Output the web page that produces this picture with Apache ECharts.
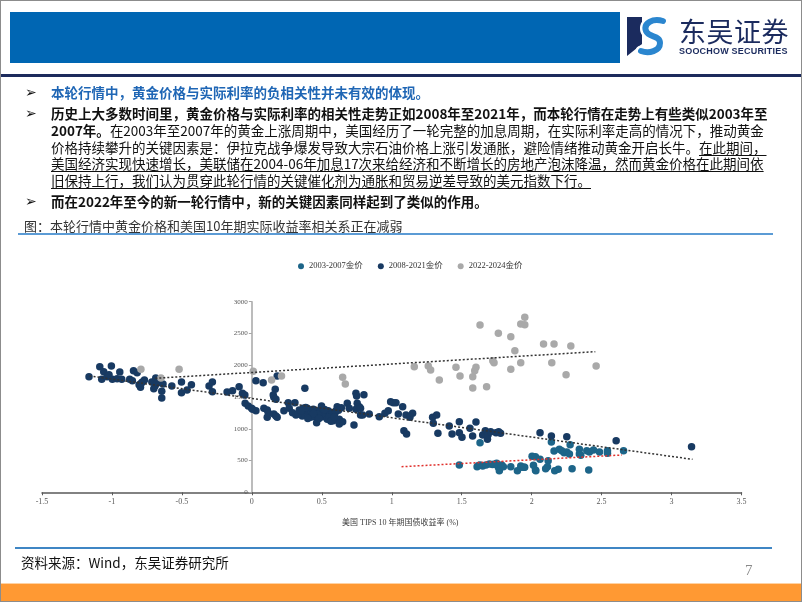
<!DOCTYPE html>
<html>
<head>
<meta charset="utf-8">
<script src="https://cdn.jsdelivr.net/npm/echarts@6/dist/echarts.min.js"></script>
<style>
html,body{margin:0;padding:0;background:#fff;}
#page{position:relative;width:802px;height:602px;overflow:hidden;background:#fff;font-family:"Noto Sans CJK SC","Noto Sans",sans-serif;}
#chart{position:absolute;left:0;top:0;width:802px;height:602px;z-index:1;}
.abs{position:absolute;white-space:nowrap;z-index:2;}
.txt{font-size:13.5px;line-height:16px;color:#111;}
.just{text-align:justify;text-align-last:justify;}
.b{font-weight:bold;}
.u{text-decoration:underline;text-underline-offset:2px;text-decoration-thickness:1px;}
.arrow{font-family:"DejaVu Sans",sans-serif;font-size:14px;font-weight:bold;line-height:16px;color:#111;left:25px;}
#frame{position:absolute;left:0;top:0;width:802px;height:602px;box-sizing:border-box;border:1px solid #8c8c8c;z-index:6;pointer-events:none;}
</style>
</head>
<body>
<div id="page">
  <div id="chart"></div>

  <!-- header -->
  <div class="abs" style="left:10px;top:12px;width:610px;height:51px;background:#0066b3;"></div>
  <svg class="abs" style="left:627px;top:17px;" width="46" height="40" viewBox="0 0 46 40">
    <polygon points="0,0 15,0 15,27 0,39" fill="#1b2b5e"/>
    <path d="M36,4 C26,1 16,6 19,14 C22,21 33,18 33,26 C33,34 22,37 14,34" fill="none" stroke="#ffffff" stroke-width="11" stroke-linecap="round"/>
    <path d="M36,4 C26,1 16,6 19,14 C22,21 33,18 33,26 C33,34 22,37 14,34" fill="none" stroke="#2b86cf" stroke-width="6" stroke-linecap="round"/>
  </svg>
  <div class="abs" style="left:679px;top:15px;font-size:27px;line-height:32px;color:#1b2b5e;letter-spacing:0.5px;">东吴证券</div>
  <div class="abs" style="left:679px;top:46px;font-family:'Liberation Sans Narrow','Liberation Sans',sans-serif;font-weight:bold;font-size:9px;line-height:10px;color:#1b2b5e;letter-spacing:0.2px;">SOOCHOW SECURITIES</div>
  <div class="abs" style="left:0;top:74px;width:802px;height:3px;background:#1c2a5c;"></div>

  <!-- bullets -->
  <div class="abs arrow" style="top:84px;">➢</div>
  <div class="abs txt b" style="left:51px;top:84px;color:#1f66b5;">本轮行情中，黄金价格与实际利率的负相关性并未有效的体现。</div>

  <div class="abs arrow" style="top:105px;">➢</div>
  <div class="abs txt b just" style="left:51px;top:105px;width:711px;">历史上大多数时间里，黄金价格与实际利率的相关性走势正如2008年至2021年，而本轮行情在走势上有些类似2003年至</div>
  <div class="abs txt just" style="left:51px;top:122px;width:707px;"><span class="b">2007年。</span>在2003年至2007年的黄金上涨周期中，美国经历了一轮完整的加息周期，在实际利率走高的情况下，推动黄金</div>
  <div class="abs txt just" style="left:51px;top:139px;width:705px;">价格持续攀升的关键因素是：伊拉克战争爆发导致大宗石油价格上涨引发通胀，避险情绪推动黄金开启长牛。<span class="u">在此期间，</span></div>
  <div class="abs txt just u" style="left:51px;top:155px;width:709px;">美国经济实现快速增长，美联储在2004-06年加息17次来给经济和不断增长的房地产泡沫降温，然而黄金价格在此期间依</div>
  <div class="abs txt u" style="left:51px;top:172px;">旧保持上行，我们认为贯穿此轮行情的关键催化剂为通胀和贸易逆差导致的美元指数下行。</div>

  <div class="abs arrow" style="top:193px;">➢</div>
  <div class="abs txt b" style="left:51px;top:193px;">而在2022年至今的新一轮行情中，新的关键因素同样起到了类似的作用。</div>

  <div class="abs" style="left:24px;top:218px;font-size:13px;line-height:16px;color:#333;">图：本轮行情中黄金价格和美国10年期实际收益率相关系正在减弱</div>
  <div class="abs" style="left:18px;top:233px;width:755px;height:2px;background:#5b9bd5;"></div>

  <!-- footer -->
  <div class="abs" style="left:15px;top:547px;width:757px;height:2px;background:#3f86c4;"></div>
  <div class="abs" style="left:21px;top:554px;font-size:13.5px;line-height:16px;color:#111;">资料来源：Wind，东吴证券研究所</div>
  <div class="abs" style="left:745px;top:562px;font-family:'Liberation Serif',serif;font-size:15px;line-height:16px;color:#8a8a8a;">7</div>
  <div class="abs" style="left:0;top:584px;width:802px;height:18px;background:#ff9933;"></div>
  <div class="abs" style="left:0;top:583px;width:802px;height:1px;background:#ffd2a3;"></div>

  <div id="frame"></div>
</div>

<script>
// ---------- data ----------
const seriesNames = ['2003-2007金价', '2008-2021金价', '2022-2024金价'];
const xAxisTitle = '美国 TIPS 10 年期国债收益率 (%)';
const xMin = -1.5, xMax = 3.5, xStep = 0.5;
const yMin = 0, yMax = 3000, yStep = 500;

const gold2003_2007 = [
  [1.631,781],[2.141,792],[2.275,749],[2.160,650],[2.198,677],[2.215,655],[2.232,624],[2.251,634],
  [2.270,603],[2.341,677],[2.341,603],[2.351,582],[2.394,655],[2.413,634],[2.442,666],[2.485,634],
  [2.542,655],[2.542,614],[2.657,655],[2.003,566],[2.027,561],[2.060,519],[2.118,498],[1.927,394],
  [1.950,394],[2.013,425],[2.027,351],[2.113,403],[2.100,372],[2.165,340],[2.190,361],[2.289,372],
  [2.408,351],[2.030,340],[1.483,430],[1.610,403],[1.631,430],[1.650,414],[1.674,430],[1.698,446],
  [1.750,456],[1.762,394],[1.769,340],[1.786,430],[1.798,403],[1.851,403],[1.898,340],[1.922,414],
  [1.946,394],[1.620,420],[1.720,436],[1.733,440]
];

const gold2008_2021 = [
  [-1.164,1820],[-1.087,1977],[-1.059,1898],[-1.073,1778],[-1.035,1820],[-1.021,1852],[-1.004,1988],
  [-0.997,1778],[-0.963,1789],[-0.944,1893],[-0.930,1778],[-0.873,1778],[-0.854,1757],[-0.846,1914],
  [-0.820,1883],[-0.806,1694],[-0.796,1652],[-0.782,1736],[-0.768,1767],[-0.790,1720],[-0.715,1736],
  [-0.701,1631],[-0.687,1799],[-0.692,1673],[-0.677,1715],[-0.644,1590],[-0.644,1484],[-0.635,1704],
  [-0.572,1673],[-0.503,1736],[-0.503,1568],[-0.463,1610],[-0.432,1694],[-0.306,1673],[-0.282,1736],
  [-0.282,1584],[-0.177,1579],[-0.138,1600],[-0.091,1662],[-0.067,1558],[-0.050,1532],[-0.048,1401],
  [-0.026,1358],[-0.002,1322],[0.029,1285],
  [0.029,1757],[0.081,1725],[0.181,1831],[0.167,1621],[0.153,1532],[0.157,1495],[0.172,1464],
  [0.005,1306],[0.086,1322],[0.110,1296],[0.117,1253],[0.110,1180],[0.157,1233],[0.172,1201],
  [0.181,1180],[0.229,1285],[0.260,1411],[0.267,1322],[0.308,1411],[0.291,1253],[0.315,1217],
  [0.339,1296],[0.355,1253],[0.367,1322],[0.379,1285],[0.396,1322],[0.403,1243],[0.410,1296],
  [0.427,1269],[0.439,1306],[0.451,1190],[0.463,1096],[0.475,1243],[0.487,1296],[0.498,1359],
  [0.505,1190],[0.515,1253],[0.529,1217],[0.539,1149],[0.546,1285],[0.558,1243],[0.570,1201],
  [0.577,1253],[0.582,1127],[0.594,1243],[0.601,1285],[0.610,1348],[0.625,1149],[0.625,1075],
  [0.649,1112],[0.379,1637],[0.682,1401],[0.696,1322],[0.730,1059],[0.744,1558],[0.749,1516],
  [0.753,1401],[0.768,1348],[0.744,1306],[0.777,1322],[0.777,1217],[0.792,1217],[0.801,1537],
  [0.839,1233],[0.911,1190],[0.951,1243],[0.975,1285],[0.992,1427],[1.011,1411],[1.030,1411],
  [1.047,1233],[1.078,1348],[1.102,1217],[1.087,970],[1.106,918],
  [0.360,1200],[0.420,1180],[0.470,1225],[0.520,1305],[0.550,1180],[0.440,1240],[0.385,1335],
  [0.330,1232],[0.565,1120],[0.620,1292],[0.640,1330],[0.590,1185],[0.400,1160],[0.480,1160],[0.350,1280],
  [1.130,1180],[1.149,1243],[1.292,1180],[1.321,1217],[1.297,1086],[1.330,929],[1.411,1044],
  [1.431,918],[1.483,1112],[1.483,938],[1.502,866],[1.559,1007],[1.578,887],[1.602,1107],
  [1.650,902],[1.669,970],[1.684,834],[1.688,902],[1.707,954],[1.745,938],[1.764,954],
  [1.778,929],[2.060,938],[2.141,887],[2.251,875],[2.604,812],[3.143,718]
];

const gold2022_2024 = [
  [-0.793,1936],[-0.650,1800],[-0.520,1936],[0.010,1905],[0.141,1768],[0.212,1831],[0.649,1810],[0.668,1705],
  [1.161,1977],[1.261,1988],[1.278,1925],[1.340,1768],[1.459,1967],[1.488,1831],[1.579,1820],[1.579,1642],
  [1.593,1915],[1.602,1967],[1.631,2633],[1.678,1662],[1.722,2072],[1.731,2040],[1.762,2502],[1.851,2450],
  [1.851,1936],[1.880,2229],[1.922,2649],[1.922,2040],[1.951,2754],[1.951,2638],[2.085,2334],[2.144,2040],
  [2.160,2334],[2.246,1852],[2.280,2303],[2.461,1988]
];

// trend line end points
const trend2003_2007 = [[1.07,403],[2.645,587]];
const trend2008_2021 = [[-1.16,1831],[3.15,519]];
const trend2022_2024 = [[-0.69,1794],[2.455,2213]];

// ---------- chart ----------
const colTeal = '#1d6589', colNavy = '#183a62', colGray = '#a9a9a9';
const serif = '"Liberation Serif","Noto Sans CJK SC",serif';
const gridLeft = 42, gridRight = 60.5, chartW = 802;
// y axis crosses the x axis at x = 0: shift it inward from the grid's left edge
const gridW = chartW - gridLeft - gridRight;
const yAxisShift = (0 - xMin) / (xMax - xMin) * gridW;

const chart = echarts.init(document.getElementById('chart'), null, {renderer:'canvas'});
const dotted = c => ({type:[2,2], width:1.5, color:c});
chart.setOption({
  animation:false,
  backgroundColor:'transparent',
  textStyle:{fontFamily:serif},
  legend:{
    data:seriesNames, left:293, top:257, icon:'circle', itemWidth:6, itemHeight:6, itemGap:15,
    textStyle:{fontFamily:serif, fontSize:8.5, color:'#333'}
  },
  grid:{left:gridLeft, right:gridRight, top:301.7, bottom:109.7, containLabel:false},
  xAxis:{
    type:'value', min:xMin, max:xMax, interval:xStep,
    name:xAxisTitle, nameLocation:'middle', nameGap:27,
    nameTextStyle:{fontFamily:serif, fontSize:8, color:'#404040', padding:[0,0,0,17]},
    axisLine:{show:true, onZero:false, lineStyle:{color:'#595959', width:1.5}},
    axisTick:{show:true, length:3, lineStyle:{color:'#595959'}},
    axisLabel:{fontFamily:serif, fontSize:8, color:'#595959', margin:6},
    splitLine:{show:false}
  },
  yAxis:{
    type:'value', min:yMin, max:yMax, interval:yStep,
    offset:-yAxisShift,
    axisLine:{show:true, onZero:false, lineStyle:{color:'#a6a6a6', width:1.5}},
    axisTick:{show:true, length:3, lineStyle:{color:'#a6a6a6'}},
    axisLabel:{fontFamily:serif, fontSize:7, color:'#595959', margin:4, formatter:v => String(v)},
    splitLine:{show:false}
  },
  series:[
    {name:seriesNames[0], type:'scatter', data:gold2003_2007, symbolSize:7.5, itemStyle:{color:colTeal, opacity:1}},
    {name:seriesNames[1], type:'scatter', data:gold2008_2021, symbolSize:7.5, itemStyle:{color:colNavy, opacity:1}},
    {name:seriesNames[2], type:'scatter', data:gold2022_2024, symbolSize:7.5, itemStyle:{color:colGray, opacity:1}},
    {name:'trend1', type:'line', data:trend2003_2007, symbol:'none', lineStyle:dotted('#e0302c'), z:5, silent:true},
    {name:'trend2', type:'line', data:trend2008_2021, symbol:'none', lineStyle:dotted('#333333'), z:5, silent:true},
    {name:'trend3', type:'line', data:trend2022_2024, symbol:'none', lineStyle:dotted('#333333'), z:5, silent:true}
  ]
});
</script>
</body>
</html>
